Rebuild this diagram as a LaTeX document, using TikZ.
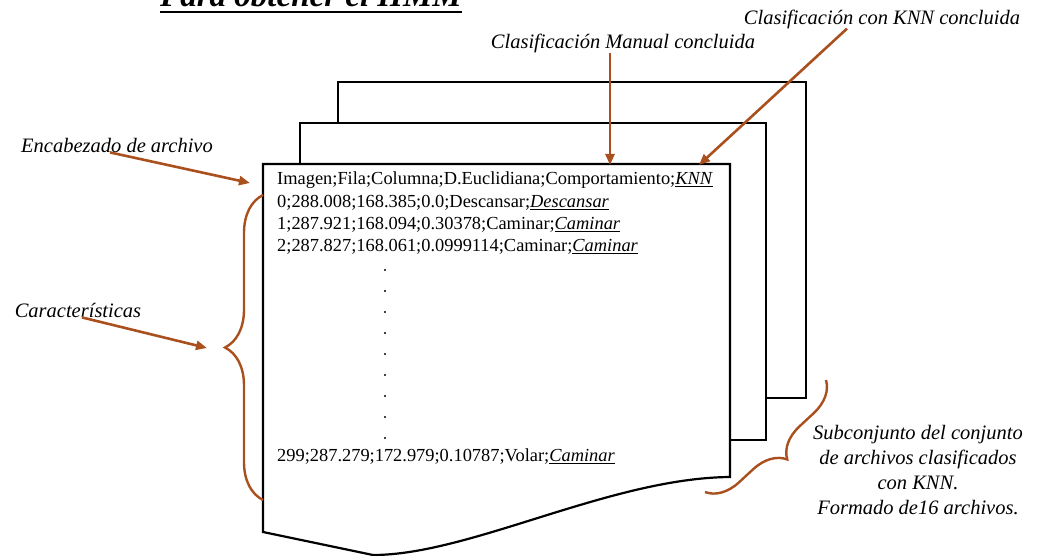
\documentclass[tikz,border=0pt]{standalone}
\usepackage{fontspec}
\setmainfont{Liberation Serif}
\usetikzlibrary{arrows.meta,positioning,decorations.pathreplacing}

\definecolor{arrowbrown}{RGB}{170,80,30}

\begin{document}
\begin{tikzpicture}[
    x=1pt, y=-1pt,
    >={Triangle[length=11pt,width=9pt]},
    page/.style={draw=black, line width=2.2pt, fill=white, line join=miter},
    row/.style={anchor=west, inner sep=0pt, font=\fontsize{18.4}{22}\selectfont},
    note/.style={inner sep=0pt, font=\fontsize{20.5}{25}\selectfont\itshape},
    pointer/.style={->, color=arrowbrown, line width=2.6pt},
    curly/.style={draw=arrowbrown, line width=2.4pt, decorate,
        decoration={brace, amplitude=#1}}
]
    \useasboundingbox (0,0) rectangle (1041,556);
    \clip (0,0) rectangle (1041,556);

    % Title - cut at the top edge
    \node[anchor=base west, inner sep=0pt, font=\fontsize{33}{36}\selectfont\bfseries\itshape]
        (title) at (160,7) {Para obtener el HMM};
    \draw[line width=2.8pt] ([yshift=-5pt]title.base west) -- ([yshift=-5pt]title.base east);

    % Pages - back to front
    \draw[page] (338,82) rectangle (806,398);
    \draw[page] (300,123) rectangle (766,440);
    \draw[page] (263,164) -- (730,164) -- (730,477)
        .. controls (610,478) and (470,555) .. (373,555) -- (263,532) -- cycle;

    % Text rows on the front page
    \node[row] (head) at (277,180) {Imagen;Fila;Columna;D.Euclidiana;Comportamiento;\underline{\textit{KNN}}};
    \node[row] (r0) at (277,203) {0;288.008;168.385;0.0;Descansar;\underline{\textit{Descansar}}};
    \node[row] (r1) at (277,225) {1;287.921;168.094;0.30378;Caminar;\underline{\textit{Caminar}}};
    \node[row] (r2) at (277,247) {2;287.827;168.061;0.0999114;Caminar;\underline{\textit{Caminar}}};
    \foreach \dy in {270,291,...,438}
        \fill (385,\dy) circle (1.1);
    \node[row] (rlast) at (277,457) {299;287.279;172.979;0.10787;Volar;\underline{\textit{Caminar}}};

    % Labels
    \node[note] (enc) at (117,145) {Encabezado de archivo};
    \node[note] (feat) at (78,310) {Características};
    \node[note] (manual) at (623,43) {Clasificación Manual concluida};
    \node[note] (knnlbl) at (882,19) {Clasificación con KNN concluida};
    \node[note, align=center]
        (subset) at (918,470) {Subconjunto del conjunto\\de archivos clasificados\\con KNN.\\Formado de16 archivos.};

    \coordinate (hdrpt) at (250,183);
    \coordinate (featpt) at (207,348);
    \coordinate (mantip) at (610,165);
    \coordinate (knntip) at (699,165);

    % Pointers
    \path[pointer]
        ([xshift=-7pt]enc.south) edge (hdrpt)
        ([xshift=4pt]feat.south) edge (featpt)
        ([xshift=-13pt]manual.south) edge (mantip)
        ([xshift=-35pt]knnlbl.south) edge (knntip);

    % Braces
    \draw[curly=38pt] (263,500) -- (263,195);
    \draw[curly=32pt] (826,380) -- (705,492);

\end{tikzpicture}
\end{document}
